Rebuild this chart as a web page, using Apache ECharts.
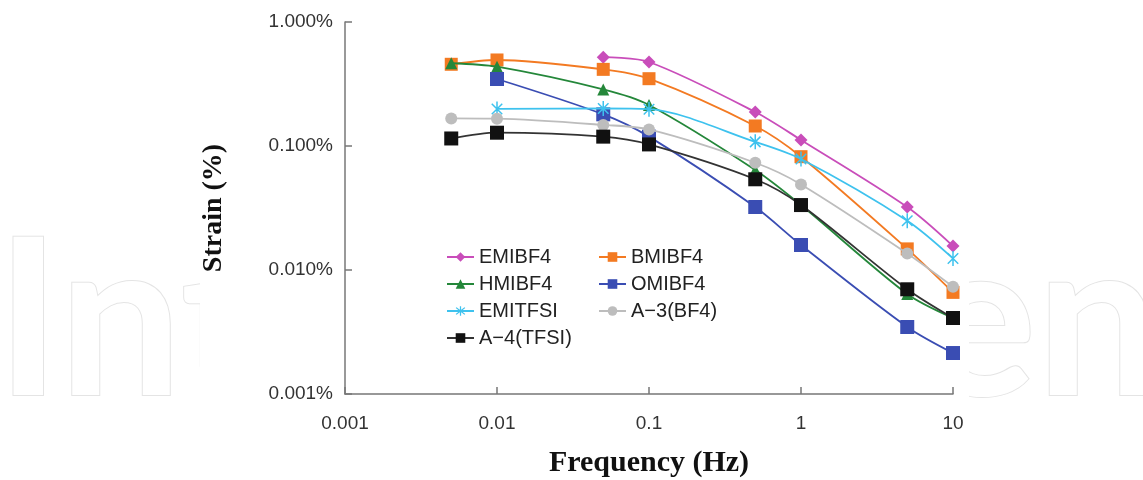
<!DOCTYPE html>
<html>
<head>
<meta charset="utf-8">
<script src="https://cdn.jsdelivr.net/npm/echarts@6/dist/echarts.min.js"></script>
<style>
html,body{margin:0;padding:0;background:#fff;}
#chart{width:1143px;height:480px;}
</style>
</head>
<body>
<div id="chart"></div>
<script>
// ---- data ----
const frequencies = [0.005, 0.01, 0.05, 0.1, 0.5, 1, 5, 10];
const seriesNames = ['EMIBF4', 'BMIBF4', 'HMIBF4', 'OMIBF4', 'EMITFSI', 'A\u22123(BF4)', 'A\u22124(TFSI)'];
const EMIBF4   = [null, null, 0.52, 0.476, 0.188, 0.112, 0.0322, 0.0156];
const BMIBF4   = [0.456, 0.494, 0.415, 0.349, 0.145, 0.082, 0.0148, 0.0066];
const HMIBF4   = [0.465, 0.436, 0.286, 0.214, 0.064, 0.0334, 0.0064, 0.0041];
const OMIBF4   = [null, 0.347, 0.180, 0.119, 0.0322, 0.0159, 0.00347, 0.00214];
const EMITFSI  = [null, 0.199, 0.201, 0.198, 0.108, 0.0786, 0.025, 0.0124];
const A3_BF4   = [0.167, 0.166, 0.148, 0.136, 0.0733, 0.049, 0.0136, 0.00733];
const A4_TFSI  = [0.115, 0.128, 0.119, 0.103, 0.0539, 0.0334, 0.00699, 0.0041];
const xTickLabels = ['0.001', '0.01', '0.1', '1', '10'];
const yTickLabels = ['0.001%', '0.010%', '0.100%', '1.000%'];

// ---- styling ----
const starPath = 'path://M-1,-10L1,-10L1,10L-1,10Z M-6.3,-7.7L7.7,6.3L6.3,7.7L-7.7,-6.3Z M6.3,-7.7L7.7,-6.3L-6.3,7.7L-7.7,6.3Z';
const styles = [
  {color: '#C94DBA', symbol: 'diamond', size: 13},
  {color: '#F37A22', symbol: 'rect', size: 13},
  {color: '#24873A', symbol: 'triangle', size: 12},
  {color: '#3A4DB3', symbol: 'rect', size: 14},
  {color: '#3EC2EE', symbol: starPath, size: 15},
  {color: '#BDBDBD', symbol: 'circle', size: 12},
  {color: '#111111', symbol: 'rect', size: 14, line: '#333333'}
];
const values = [EMIBF4, BMIBF4, HMIBF4, OMIBF4, EMITFSI, A3_BF4, A4_TFSI];

function pairs(vals) {
  const out = [];
  vals.forEach((v, i) => { if (v !== null) out.push([frequencies[i], v]); });
  return out;
}

const series = seriesNames.map((name, k) => ({
  name: name,
  type: 'line',
  smooth: 0.3,
  data: pairs(values[k]),
  symbol: styles[k].symbol,
  symbolSize: styles[k].size,
  symbolKeepAspect: true,
  showAllSymbol: true,
  lineStyle: {color: styles[k].line || styles[k].color, width: 1.8},
  itemStyle: {color: styles[k].color},
  emphasis: {disabled: true},
  z: 2 + k
}));

const legendText = {fontFamily: 'Liberation Sans', fontSize: 20, color: '#222', lineHeight: 20};

const chart = echarts.init(document.getElementById('chart'), null, {renderer: 'canvas'});
chart.setOption({
  backgroundColor: '#ffffff',
  animation: false,
  graphic: [
    {type: 'text', z: -10, zlevel: 0, x: -4, y: 325,
      style: {text: 'Int', font: 'bold 218px Lato', fill: '#ffffff', stroke: '#e4e4e4', lineWidth: 2, textVerticalAlign: 'middle'}},
    {type: 'text', z: -10, zlevel: 0, x: 920, y: 325,
      style: {text: 'en', font: 'bold 218px Lato', fill: '#ffffff', stroke: '#e4e4e4', lineWidth: 2, textVerticalAlign: 'middle'}},
    {type: 'rect', z: -9, zlevel: 0, shape: {x: 200, y: 0, width: 769, height: 480}, style: {fill: '#ffffff'}}
  ],
  grid: {left: 345, right: 190, top: 22, bottom: 86, containLabel: false, outerBoundsMode: 'none'},
  legend: [
    {data: [seriesNames[0], seriesNames[2], seriesNames[4], seriesNames[6]],
     orient: 'vertical', left: 446, top: 247, padding: 0, itemGap: 7, itemWidth: 27, itemHeight: 12,
     textStyle: legendText, selectedMode: false},
    {data: [seriesNames[1], seriesNames[3], seriesNames[5]],
     orient: 'vertical', left: 598, top: 247, padding: 0, itemGap: 7, itemWidth: 27, itemHeight: 12,
     textStyle: legendText, selectedMode: false}
  ],
  xAxis: {
    type: 'log', logBase: 10, min: 0.001, max: 10,
    name: 'Frequency (Hz)', nameLocation: 'middle', nameGap: 54,
    nameTextStyle: {fontFamily: 'Liberation Serif', fontWeight: 'bold', fontSize: 30, color: '#111'},
    axisLine: {lineStyle: {color: '#777', width: 1.5}},
    axisTick: {inside: true, length: 7, lineStyle: {color: '#777', width: 1.5}},
    axisLabel: {fontFamily: 'Liberation Sans', fontSize: 19, color: '#333', margin: 20,
      formatter: (v, i) => xTickLabels[i]},
    splitLine: {show: false}
  },
  yAxis: {
    type: 'log', logBase: 10, min: 0.001, max: 1,
    name: 'Strain (%)', nameLocation: 'middle', nameGap: 117, nameRotate: 90,
    nameTextStyle: {fontFamily: 'Liberation Serif', fontWeight: 'bold', fontSize: 28, color: '#111'},
    axisLine: {lineStyle: {color: '#777', width: 1.5}},
    axisTick: {inside: true, length: 7, lineStyle: {color: '#777', width: 1.5}},
    axisLabel: {fontFamily: 'Liberation Sans', fontSize: 19, color: '#333', margin: 12,
      formatter: (v, i) => yTickLabels[i]},
    splitLine: {show: false}
  },
  series: series
});
</script>
</body>
</html>
